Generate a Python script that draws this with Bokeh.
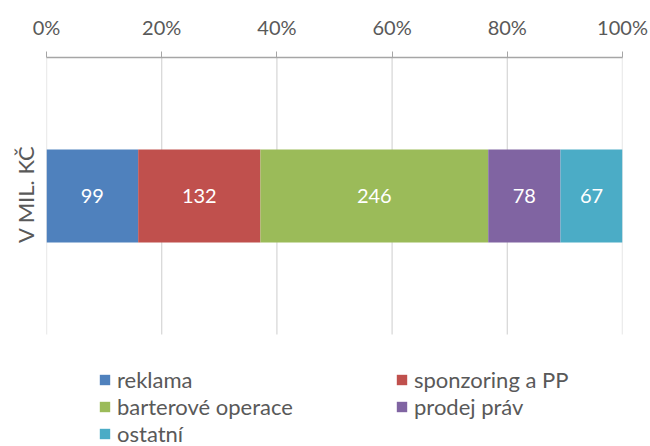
from bokeh.plotting import figure
from bokeh.models import (ColumnDataSource, Range1d, FixedTicker, Title,
                          NumeralTickFormatter, Legend, LegendItem, LabelSet)
from bokeh.core.properties import value
from bokeh.embed import file_html
from bokeh.resources import INLINE

# ---- data ----
category = "V MIL. KČ"
series = ["reklama", "sponzoring a PP", "barterové operace", "prodej práv", "ostatní"]
values = [99, 132, 246, 78, 67]
colors = ["#4F81BD", "#C0504D", "#9BBB59", "#8064A2", "#4BACC6"]
tick_values = [0, 0.2, 0.4, 0.6, 0.8, 1.0]

total = sum(values)
shares = [v / total for v in values]
lefts, rights = [], []
acc = 0.0
for s in shares:
    lefts.append(acc)
    acc += s
    rights.append(acc)

FONT = "Lato"
GRAY = "#595959"

# plot area: value axis 0..1 (chart part), extra space below for the legend
Y_BOTTOM = -112 / 277.0
p = figure(width=650, height=446, output_backend="svg", toolbar_location=None,
           x_range=Range1d(0, 1), y_range=Range1d(Y_BOTTOM, 1),
           x_axis_location="above", min_border_left=46, min_border_right=28,
           min_border_top=57, min_border_bottom=0)
p.outline_line_color = None
p.grid.visible = False

# vertical gridlines over the chart part only
p.segment(x0=tick_values, y0=[0] * len(tick_values), x1=tick_values,
          y1=[1] * len(tick_values), line_color="#D9D9D9", line_width=1.3)

src = ColumnDataSource(dict(
    val=[str(v) for v in values],
    mid=[(l + r) / 2 for l, r in zip(lefts, rights)],
    y=[0.5] * len(values)))

renderers = []
for i, name in enumerate(series):
    r = p.hbar(y=[0.5], left=[lefts[i]], right=[rights[i]], height=0.336,
               fill_color=colors[i], line_color=None)
    renderers.append(r)

labels = LabelSet(x="mid", y="y", text="val", source=src, text_align="center",
                  text_baseline="middle", text_color="white", text_font=value(FONT),
                  text_font_size="20px")
p.add_layout(labels)

# x axis (top)
xa = p.xaxis[0]
xa.ticker = FixedTicker(ticks=tick_values)
xa.formatter = NumeralTickFormatter(format="0%")
xa.axis_line_color = "#A6A6A6"
xa.axis_line_width = 1.3
xa.major_tick_line_color = "#A6A6A6"
xa.major_tick_out = 6
xa.major_tick_in = 0
xa.minor_tick_line_color = None
xa.major_label_standoff = 13
xa.major_label_text_font = FONT
xa.major_label_text_font_size = "20px"
xa.major_label_text_color = GRAY

# y axis hidden; category name as a left title
p.yaxis.visible = False
ytitle = Title(text=category, align="right", offset=88, standoff=16, text_font=FONT,
               text_font_style="normal", text_font_size="22px", text_color=GRAY)
p.add_layout(ytitle, "left")

legend = Legend(items=[LegendItem(label=s, renderers=[r]) for s, r in zip(series, renderers)],
                location=(52, -1), orientation="horizontal", ncols=2,
                glyph_width=13, glyph_height=13, label_standoff=6, label_width=278,
                label_height=24, spacing=0, padding=0, margin=0,
                border_line_color=None, background_fill_alpha=0,
                label_text_font=FONT, label_text_font_size="22px",
                label_text_color=GRAY)
p.add_layout(legend, "center")

open("out.html", "w").write(file_html(p, INLINE))
